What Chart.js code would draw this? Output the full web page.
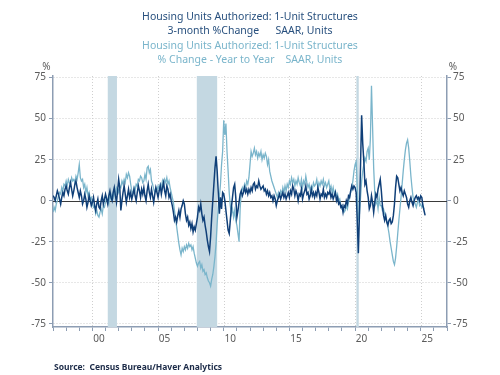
<!DOCTYPE html>
<html>
<head>
<meta charset="utf-8">
<script src="https://cdn.jsdelivr.net/npm/chart.js@4.4.1/dist/chart.umd.min.js"></script>
<style>
  html, body { margin: 0; padding: 0; background: #fff; }
  #wrap { width: 500px; height: 375px; position: relative; }
</style>
</head>
<body>
<div id="wrap"><canvas id="lineChart" width="500" height="375"></canvas></div>
<script>
// monthly series, first point = Jan 1997
var startYear = 1997;

// 3-month % change, SAAR (dark line), Jan 1997 - May 2025
var threeMonth = [
  3, 2, 0, 3, 6, 4, 1, -2, 2, 5, 3, 7,            // 97
  9, 6, 4, 8, 11, 7, 3, 6, 10, 12, 8, 5,          // 98
  2, 6, 3, -2, 0, 4, 1, -4, -1, 3, 0, -3,         // 99
  -1, 2, -3, -6, -2, 1, -4, -5, 0, 3, -2, 1,      // 00
  4, 1, -2, 3, 6, 2, 0, 5, 8, 3, -1, 6,           // 01
  13, 8, -6, 0, 5, 9, 4, -1, 3, 7, 2, 5,          // 02
  1, 4, 7, 3, 0, 5, 9, 6, 2, 7, 4, 8,             // 03
  3, 0, 6, 10, 5, 2, 7, 3, -1, 4, 8, 5,           // 04
  2, 6, 9, 4, 8, 11, 6, 3, 9, 7, 2, 4,            // 05
  0, -3, -7, -12, -10, -13, -9, -6, -10, -5, -3, 0,      // 06
  -2, -8, -12, -10, -15, -13, -17, -14, -19, -16, -18, -14, // 07
  -10, -4, -6, -2, -8, -12, -10, -15, -19, -24, -28, -31,   // 08
  -22, -10, 0, 10, 20, 27, 18, 5, -8, 2, -5, 5,    // 09
  4, 0, -6, -12, -18, -20, -12, -4, 2, 8, 10, 2,   // 10
  -10, -6, -1, 4, 6, 3, 5, 8, 5, 7, 4, 7,         // 11
  5, 8, 6, 10, 11, 7, 9, 8, 12, 9, 7, 8,          // 12
  9, 6, 7, 4, 6, 3, 5, 2, 3, 0, 3, 1,             // 13
  -3, 0, 2, 4, 1, 3, 5, 2, 4, 1, 3, 5,            // 14
  2, 6, 4, 9, 7, 3, 6, 4, 0, 4, 3, 7,             // 15
  1, 4, 6, 9, 4, 5, 1, 3, 7, 3, 5, 2,             // 16
  5, 3, 8, 5, 1, 4, 3, 7, 2, 4, 2, 5,             // 17
  4, 6, 2, 4, 1, 3, 5, 0, 2, -2, -1, -4,          // 18
  -3, -7, -3, -4, 0, -2, 3, 2, 6, 9, 7, 9,        // 19
  8, 5, -12, -32, -8, 22, 52, 35, 24, 10, 12, 6,  // 20
  2, -5, -3, 3, -1, -7, -1, 4, 2, 7, 10, 13,      // 21
  6, -3, -9, -12, -9, -13, -15, -12, -11, -14, -13, -9, // 22
  -2, 8, 15, 14, 10, 6, 8, 5, 3, 6, 4, 2,         // 23
  -2, -4, 0, 2, -1, -3, 0, 2, 3, 1, 2, 0,         // 24
  3, 2, -3, -6, -9                                // 25
];

// % change year to year (light line), Jan 1997 - Apr 2025
var yearOverYear = [
  -7, -4, -6, -2, 0, 3, 5, 4, 8, 6, 10, 9,        // 97
  12, 9, 13, 11, 10, 14, 12, 13, 11, 15, 13, 17,  // 98
  22, 14, 12, 13, 8, 10, 5, 8, 3, 5, 1, 2,        // 99
  -2, -4, -3, -8, -6, -9, -10, -7, -5, -8, -3, -4, // 00
  -1, 2, 0, -2, 3, 1, 4, 2, 6, 3, 8, 7,           // 01
  5, 9, 8, 12, 10, 13, 11, 16, 14, 17, 15, 10,    // 02
  6, 4, 8, 6, 10, 9, 13, 12, 15, 14, 11, 12,      // 03
  16, 13, 20, 21, 17, 19, 12, 10, 7, 5, 8, 6,     // 04
  9, 7, 10, 8, 12, 9, 13, 11, 14, 10, 12, 8,      // 05
  5, 2, -1, -6, -11, -16, -21, -26, -30, -33, -29, -31, // 06
  -28, -30, -27, -29, -26, -28, -27, -30, -28, -32, -35, -38, // 07
  -40, -38, -37, -41, -39, -43, -42, -45, -44, -47, -49, -50, // 08
  -52, -48, -45, -40, -34, -26, -14, -4, 2, 10, 22, 30, // 09
  49, 40, 47, 30, 18, 5, -3, -8, -5, -10, -6, -12, // 10
  -15, -20, -25, -5, 5, 8, 6, 10, 8, 12, 10, 14,  // 11
  22, 30, 27, 29, 32, 28, 30, 26, 29, 27, 30, 25, // 12
  28, 26, 29, 27, 22, 25, 18, 15, 12, 10, 8, 6,   // 13
  4, 2, 5, 3, 6, 4, 8, 5, 9, 6, 10, 8,            // 14
  12, 10, 14, 11, 13, 9, 12, 10, 14, 11, 9, 13,   // 15
  8, 12, 10, 15, 11, 8, 10, 6, 9, 7, 11, 9,       // 16
  10, 13, 8, 11, 9, 12, 10, 13, 9, 11, 8, 10,     // 17
  12, 7, 9, 5, 8, 4, 6, 2, 4, 0, 1, -3,           // 18
  -5, -4, -7, -6, -3, -5, -1, 2, 5, 8, 12, 18,    // 19
  22, 24, 8, -12, -8, 2, 12, 18, 22, 26, 24, 30,  // 20
  32, 25, 38, 70, 45, 20, 5, -2, 0, -5, 2, -3,    // 21
  -3, -6, -5, -8, -10, -13, -16, -20, -25, -29, -33, -37, // 22
  -39, -35, -28, -20, -12, -5, 2, 10, 18, 25, 31, 35, // 23
  37, 32, 24, 15, 8, 2, 0, -2, -4, -1, 1, -3,     // 24
  -2, -4, -3, -5                                  // 25
];

// recessions (start, end) in decimal years
var recessions = [[2001.17, 2001.87], [2007.95, 2009.5], [2020.1, 2020.28]];

// years that get a label and a vertical grid line
var labelYears = [2000, 2005, 2010, 2015, 2020, 2025];

var titleDark = ['Housing Units Authorized: 1-Unit Structures', '3-month %Change      SAAR, Units'];
var titleLight = ['Housing Units Authorized: 1-Unit Structures', '% Change - Year to Year    SAAR, Units'];
var sourceText = 'Source:  Census Bureau/Haver Analytics';

var darkBlue = '#0f3f78';
var lightBlue = '#7ab5cb';
var axisColor = '#8d9db3';
var gridColor = '#cfcfcf';
var tickText = '#5b5b5b';

function toPoints(values){
    return values.map(function(v, i){
        return { x: startYear + i / 12, y: v };
    });
}

// recession bars, 5-year grid lines and zero line, drawn under the lines
var backdrop = {
    id: 'backdrop',
    beforeDatasetsDraw: function(chart){
        var c = chart.ctx, a = chart.chartArea, xs = chart.scales.x, ys = chart.scales.y;
        c.save();
        c.strokeStyle = gridColor;
        c.lineWidth = 1;
        c.setLineDash([1, 2]);
        labelYears.forEach(function(yr){
            var x = Math.round(xs.getPixelForValue(yr)) + 0.5;
            c.beginPath();
            c.moveTo(x, a.top);
            c.lineTo(x, a.bottom);
            c.stroke();
        });
        c.setLineDash([]);
        c.fillStyle = '#c4d8e2';
        recessions.forEach(function(r){
            var x0 = xs.getPixelForValue(r[0]);
            var x1 = xs.getPixelForValue(r[1]);
            c.fillRect(x0, a.top, x1 - x0, a.bottom - a.top);
        });
        var y0 = Math.round(ys.getPixelForValue(0)) + 0.5;
        c.strokeStyle = '#3a3a3a';
        c.beginPath();
        c.moveTo(a.left, y0);
        c.lineTo(a.right, y0);
        c.stroke();
        c.restore();
    }
};

// titles, % marks and source note
var texts = {
    id: 'texts',
    afterDraw: function(chart){
        var c = chart.ctx;
        c.save();
        c.textAlign = 'center';
        c.textBaseline = 'middle';
        c.font = '10.5px "Noto Sans"';
        c.fillStyle = '#28507e';
        c.fillText(titleDark[0], 250, 17);
        c.fillText(titleDark[1], 250, 31.5);
        c.fillStyle = lightBlue;
        c.fillText(titleLight[0], 250, 46);
        c.fillText(titleLight[1], 250, 60.5);

        c.font = '10px "Noto Sans"';
        c.fillStyle = tickText;
        c.fillText('%', 46.5, 67);
        c.fillText('%', 453, 67);

        c.textAlign = 'left';
        c.font = 'bold 8.5px "Noto Sans"';
        c.fillStyle = '#1c2b48';
        c.fillText(sourceText, 54, 368);
        c.restore();
    }
};

var yTicks = {
    stepSize: 25,
    includeBounds: false,
    color: tickText,
    font: { family: 'Noto Sans', size: 10 }
};

var ctx = document.getElementById('lineChart');
var lineChart = new Chart(ctx, {
    type: 'line',
    data: {
        datasets: [
            {
                label: '3-month %Change',
                data: toPoints(threeMonth),
                borderColor: darkBlue,
                borderWidth: 1.5,
                pointRadius: 0,
                fill: false,
                tension: 0
            },
            {
                label: '% Change - Year to Year',
                data: toPoints(yearOverYear),
                borderColor: lightBlue,
                borderWidth: 1.3,
                pointRadius: 0,
                fill: false,
                tension: 0
            }
        ]
    },
    options: {
        responsive: false,
        animation: false,
        events: [],
        layout: { padding: { top: 76, bottom: 28, left: 0, right: 0 } },
        plugins: {
            legend: { display: false },
            title: { display: false },
            tooltip: { enabled: false }
        },
        scales: {
            x: {
                type: 'linear',
                min: 1997,
                max: 2027,
                afterFit: function(s){ s.height = 20; },
                afterBuildTicks: function(s){
                    var t = [];
                    for (var yr = 1997; yr <= 2027; yr++) t.push({ value: yr });
                    s.ticks = t;
                },
                ticks: {
                    autoSkip: false,
                    maxRotation: 0,
                    padding: 2,
                    labelOffset: 6.5,
                    color: tickText,
                    font: { family: 'Noto Sans', size: 10 },
                    callback: function(v){
                        if (labelYears.indexOf(v) < 0) return '';
                        var s = String(v % 100);
                        return s.length == 1 ? '0' + s : s;
                    }
                },
                grid: {
                    display: true,
                    drawOnChartArea: false,
                    color: 'rgba(0,0,0,0)',
                    tickColor: axisColor,
                    tickLength: 4
                },
                border: { color: axisColor, width: 1.5 }
            },
            y: {
                position: 'left',
                min: -77,
                max: 76,
                afterFit: function(s){ s.width = 53; },
                ticks: Object.assign({ padding: 3 }, yTicks),
                grid: {
                    color: function(g){
                        return (g.tick && g.tick.value === 0) ? 'rgba(0,0,0,0)' : gridColor;
                    },
                    tickColor: axisColor,
                    tickLength: 4
                },
                border: { color: axisColor, width: 1.5, dash: [1, 2] }
            },
            y2: {
                position: 'right',
                min: -77,
                max: 76,
                afterFit: function(s){ s.width = 53; },
                ticks: Object.assign({ padding: 2 }, yTicks),
                grid: { drawOnChartArea: false, color: 'rgba(0,0,0,0)', tickColor: axisColor, tickLength: 4 },
                border: { color: axisColor, width: 1.5 }
            }
        }
    },
    plugins: [backdrop, texts]
});
</script>
</body>
</html>
